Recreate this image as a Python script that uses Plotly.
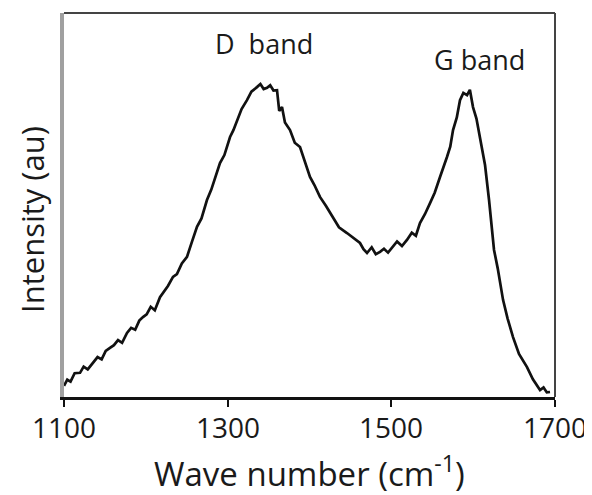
import plotly.graph_objects as go

# Raman spectrum (wavenumber in cm^-1, intensity in arbitrary units 0-100)
wavenumber = [1100.0, 1104, 1108, 1113, 1119.6, 1124, 1129, 1135.4, 1141, 1146, 1151, 1156.2, 1161, 1166, 1171,
              1177.0, 1182, 1187, 1192, 1196.5, 1201, 1206, 1211, 1217.3, 1222, 1227, 1233.2, 1238, 1244,
              1250.3, 1256, 1262.5, 1268, 1274.7, 1280, 1285, 1290.6, 1296, 1302.9, 1307, 1311.4, 1317,
              1323.6, 1329, 1335.8, 1340, 1344, 1348.1, 1352, 1356, 1360.3, 1363, 1366.4, 1370, 1376.2,
              1382, 1388.4, 1394, 1400.6, 1406, 1412.8, 1420, 1428.7, 1436, 1445.8, 1453, 1461.7, 1466,
              1470.3, 1476, 1481, 1486.2, 1491, 1496, 1502.0, 1507, 1513, 1519.1, 1525, 1530, 1535.0,
              1541, 1547.3, 1553, 1559.5, 1564, 1568.0, 1572, 1575.4, 1580, 1583.9, 1588, 1592.5, 1596,
              1599.8, 1604, 1608.4, 1614.5, 1619.4, 1625.5, 1630, 1636.5, 1642, 1648.7, 1656, 1665.8,
              1673, 1681.7, 1686, 1690, 1693.9]
intensity = [2.9, 4.5, 4.0, 6.2, 6.3, 7.9, 7.2, 8.9, 10.4, 9.8, 12.0, 12.8, 13.5, 14.8, 14.1,
             16.7, 18.0, 17.5, 19.9, 20.8, 21.5, 23.5, 22.6, 26.0, 27.5, 28.9, 31.3, 32.0, 34.8,
             36.5, 40.2, 44.3, 46.5, 51.3, 54.0, 57.5, 60.9, 63.0, 67.7, 69.5, 72.1, 75.0,
             77.3, 79.5, 80.7, 81.5, 80.2, 80.5, 81.2, 79.8, 79.9, 74.5, 75.5, 71.5, 69.5,
             66.2, 65.1, 61.5, 57.3, 55.2, 52.1, 49.8, 46.9, 44.2, 42.7, 41.6, 40.1, 38.5,
             37.5, 39.0, 37.2, 37.8, 38.6, 37.6, 39.1, 40.5, 39.3, 40.9, 42.8, 42.0, 45.3,
             47.6, 50.5, 53.2, 57.3, 59.8, 62.5, 65.2, 69.5, 72.8, 77.3, 79.2, 78.6, 80.0,
             75.5, 72.5, 67.7, 60.4, 51.3, 38.3, 33.5, 25.3, 20.5, 15.6, 11.2, 7.8,
             4.6, 1.8, 2.5, 1.2, 1.3]

x_ticks = [1100, 1300, 1500, 1700]
x_tick_labels = ["1100", "1300", "1500", "1700"]
x_range = [1100, 1700]
y_range = [0, 100]

x_title = "Wave number (cm<sup>-1</sup>)"
y_title = "Intensity (au)"

band_labels = ["D  band", "G band"]
band_x = [1345, 1608]
band_y = [92, 88]

FONT = "Open Sans, Noto Sans, sans-serif"
TXT = "#1a1a1a"

fig = go.Figure()
fig.add_trace(go.Scatter(x=wavenumber, y=intensity, mode="lines",
                         line=dict(color="#111111", width=2.7), showlegend=False,
                         hoverinfo="skip"))

for t, bx, by in zip(band_labels, band_x, band_y):
    fig.add_annotation(x=bx, y=by, text=t, showarrow=False,
                       font=dict(family=FONT, size=27, color=TXT))

# tick labels placed on the x scale, just below the tick marks
for v, lab in zip(x_ticks, x_tick_labels):
    fig.add_annotation(x=v, xref="x", y=0, yref="paper", text=lab, showarrow=False,
                       yanchor="middle", yshift=-30, font=dict(family=FONT, size=28, color=TXT))

# axis titles
fig.add_annotation(x=0.5, xref="paper", y=0, yref="paper", text=x_title, showarrow=False,
                   yanchor="middle", yshift=-74, font=dict(family=FONT, size=33, color=TXT))
fig.add_annotation(x=0, xref="paper", y=0, yref="paper", text=y_title, showarrow=False,
                   textangle=-90, xanchor="center", yanchor="middle", xshift=-32, yshift=177,
                   font=dict(family=FONT, size=31, color=TXT))

# frame: top and right borders
fig.add_shape(type="line", xref="x domain", yref="y domain", x0=0, x1=1, y0=1, y1=1,
              line=dict(color="#444444", width=2), layer="above")
fig.add_shape(type="line", xref="x domain", yref="y domain", x0=1, x1=1, y0=0, y1=1,
              line=dict(color="#444444", width=2), layer="above")

fig.update_xaxes(range=x_range, tickvals=x_ticks, showticklabels=False,
                 automargin=False,
                 showgrid=False, zeroline=False, showline=True, linecolor="#111111", linewidth=3,
                 ticks="outside", ticklen=7, tickwidth=1.5, tickcolor="#111111")
fig.update_yaxes(range=y_range, showticklabels=False, ticks="", showgrid=False, zeroline=False,
                 automargin=False,
                 showline=True, linecolor="#a0a0a0", linewidth=3.5)

# page body has an 8px margin, so the figure is sized/offset to land the plot area where the reference has it
fig.update_layout(width=584, height=487, margin=dict(l=56, r=37, t=5, b=98),
                  plot_bgcolor="white", paper_bgcolor="white")

fig.write_html("out.html")
